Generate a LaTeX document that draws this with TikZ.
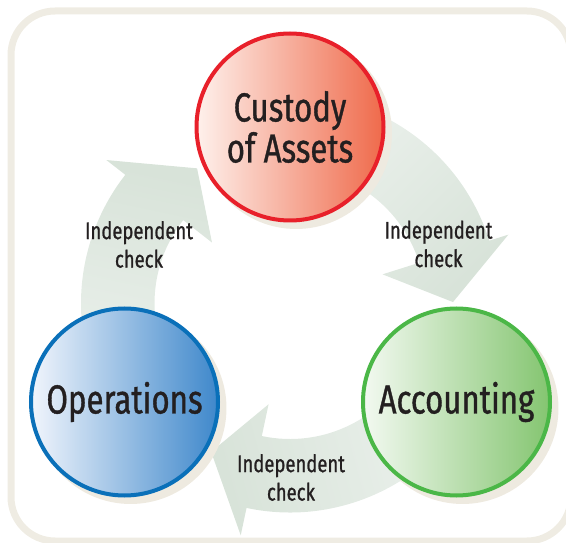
\documentclass[tikz,border=0pt]{standalone}
\usepackage{fontspec}
\newfontfamily\diagfont[FakeStretch=0.77, FakeBold=0.9]{Fira Sans}
\usetikzlibrary{positioning, shadows}

\definecolor{framebeige}{HTML}{EFECE3}
\definecolor{shadowbeige}{HTML}{EEEAE0}
\definecolor{flowdark}{HTML}{D8E3D9}
\definecolor{flowlight}{HTML}{EEF3EF}
\definecolor{custodyline}{HTML}{E8202A}
\definecolor{custodylight}{HTML}{FEF1EC}
\definecolor{custodydark}{HTML}{EF6A4B}
\definecolor{opsline}{HTML}{0A70B9}
\definecolor{opslight}{HTML}{F1F5FC}
\definecolor{opsdark}{HTML}{3F88CB}
\definecolor{accline}{HTML}{4BB747}
\definecolor{acclight}{HTML}{F3F9F1}
\definecolor{accdark}{HTML}{84C570}
\definecolor{textdark}{HTML}{231F20}

\begin{document}
\begin{tikzpicture}[
    x=1pt, y=1pt,
    stage/.style={circle, minimum size=187pt, inner sep=0pt, line width=4pt,
                  align=center, text=textdark,
                  font=\diagfont\fontsize{40.5}{41}\selectfont,
                  general shadow={fill=shadowbeige, shadow scale=1.025,
                                  shadow xshift=6pt, shadow yshift=-6pt}},
    custody/.style={stage, draw=custodyline, left color=custodylight, right color=custodydark},
    operations/.style={stage, draw=opsline, left color=opslight, right color=opsdark},
    accounting/.style={stage, draw=accline, left color=acclight, right color=accdark},
    cyclearrow/.style={top color=flowdark, bottom color=flowlight, shading angle=#1},
    checklabel/.style={align=center, text=textdark,
                       font=\diagfont\fontsize{24}{28.5}\selectfont},
    frame/.style={draw=framebeige, line width=7pt, rounded corners=44pt}
]
  \useasboundingbox (0,0) rectangle (566,542);
  \draw[frame] (11,1) rectangle (571,531);

  % ring of independent checks
  \coordinate (hub) at (290,238.5);
  \begin{scope}[shift={(hub)}]
    \path[cyclearrow=-135] (95:209) arc[start angle=95, end angle=17.5, radius=209]
      -- (17.5:229) -- (0.5:163) -- (17.5:97) -- (17.5:135.5)
      arc[start angle=17.5, end angle=95, radius=135.5] -- cycle;
    \path[cyclearrow=105] (335:209) arc[start angle=335, end angle=258, radius=209]
      -- (258:237) -- (242:168) -- (258:103) -- (258:135.5)
      arc[start angle=258, end angle=335, radius=135.5] -- cycle;
    \path[cyclearrow=-12] (215:209) arc[start angle=215, end angle=142, radius=209]
      -- (142:233) -- (124.5:164) -- (142:99) -- (142:135.5)
      arc[start angle=142, end angle=215, radius=135.5] -- cycle;
  \end{scope}

  \node[custody] (custody) at (290,415) {Custody\\of Assets};
  \node[operations] (ops) at (124.5,140) {Operations};
  \node[accounting] (acc) at (456.5,140) {Accounting};

  \node[checklabel] (checkright) at (438.5,298) {Independent\\check};
  \node[checklabel] (checkbottom) at (291,64.5) {Independent\\check};
  \node[checklabel] (checkleft) at (139,297.5) {Independent\\check};
\end{tikzpicture}
\end{document}
